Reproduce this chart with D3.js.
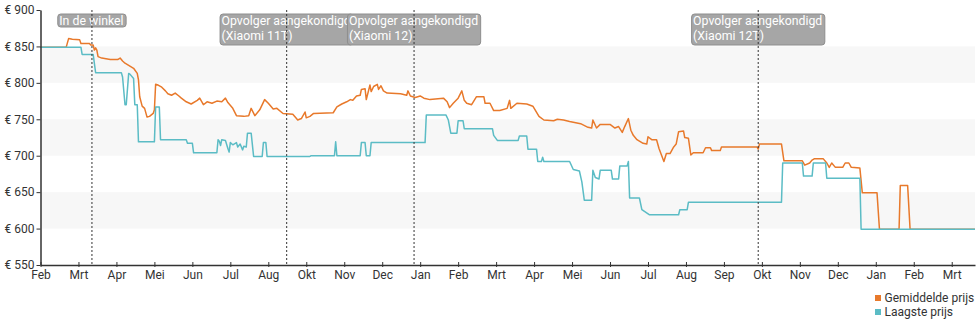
<!DOCTYPE html>
<html>
<head>
<meta charset="utf-8">
<script src="https://cdn.jsdelivr.net/npm/d3@7"></script>
<style>
  html, body { margin: 0; padding: 0; background: #fff; }
  svg { display: block; font-family: Roboto, "Noto Sans", sans-serif; }
</style>
</head>
<body>
<svg id="chart" width="980" height="325"></svg>
<script>
// Prijsverloop: x = dagen sinds de eerste maandmarkering, y = prijs in euro

// As-labels (één markering per 31 dagen)
const monthLabels = ["Feb","Mrt","Apr","Mei","Jun","Jul","Aug","Okt","Nov","Dec","Jan",
  "Feb","Mrt","Apr","Mei","Jun","Jul","Aug","Sep","Okt","Nov","Dec","Jan","Feb","Mrt"];
const tickStepDays = 31;
const lastDay = 763;
const priceTicks = [550, 600, 650, 700, 750, 800, 850, 900];

// Gebeurtenissen
const eventDays = [42, 201, 305, 586];
const eventLabels = [
  ["In de winkel"],
  ["Opvolger aangekondigd", "(Xiaomi 11T)"],
  ["Opvolger aangekondigd", "(Xiaomi 12)"],
  ["Opvolger aangekondigd", "(Xiaomi 12T)"]
];

// Gemiddelde prijs [dag, euro]
const gemiddeldePrijs = [
  [0,849],[21,849],[23,861],[26,860],[32,859],[33,854],[40,854],[41,852],[43,852],[44,845],
  [45,848],[46,845],[47,836],[50,834],[57,832],[63,832],[65,834],[67,830],[69,827],[72,824],
  [76,820],[79,813],[80,804],[81,781],[83,768],[85,765],[87,753],[89,754],[92,758],[93,763],
  [94,798],[96,797],[99,794],[102,789],[104,785],[107,783],[110,786],[113,782],[115,779],[119,774],
  [123,771],[128,776],[130,779],[133,770],[136,774],[140,772],[144,775],[148,774],[151,779],[153,773],
  [157,765],[160,755],[166,754],[170,755],[172,765],[175,755],[179,763],[183,777],[186,772],[190,764],
  [193,765],[198,758],[206,757],[209,751],[210,749],[213,751],[216,760],[217,752],[220,754],[223,758],
  [239,759],[242,767],[246,771],[250,774],[253,777],[255,776],[258,782],[261,783],[262,791],[265,792],
  [266,777],[269,797],[270,788],[272,795],[275,798],[276,791],[278,796],[280,789],[283,786],[294,785],
  [299,783],[300,789],[302,782],[306,780],[310,782],[313,779],[318,777],[329,779],[332,774],[334,766],
  [337,772],[341,779],[344,789],[346,776],[348,772],[352,770],[356,781],[362,781],[363,772],[367,772],
  [370,762],[375,762],[381,765],[383,776],[384,765],[389,772],[397,771],[402,768],[407,754],[411,749],
  [419,748],[422,750],[427,749],[432,747],[441,744],[447,739],[450,738],[451,749],[454,738],[457,743],
  [465,743],[469,738],[472,740],[475,732],[477,740],[480,751],[482,735],[484,728],[487,722],[490,719],
  [492,717],[495,716],[496,726],[499,722],[503,722],[505,710],[507,701],[509,692],[511,703],[514,703],
  [517,712],[519,716],[521,733],[525,734],[526,725],[529,724],[531,701],[533,704],[541,704],[543,711],
  [547,711],[548,707],[555,707],[556,712],[585,712],[586,709],[587,716],[605,716],[607,693],[622,693],
  [624,687],[628,690],[630,694],[632,696],[639,696],[642,690],[644,684],[646,690],[649,684],[655,684],
  [657,690],[660,690],[662,684],[669,683],[671,649],[683,649],[685,599],[701,599],[702,659],[708,659],
  [710,599],[763,599]
];

// Laagste prijs [dag, euro]
const laagstePrijs = [
  [0,849],[33,849],[34,839],[43,839],[45,814],[66,814],[67,808],[69,770],[70,770],[72,813],
  [73,812],[76,806],[77,770],[79,770],[80,719],[93,719],[94,767],[97,767],[98,722],[119,722],
  [120,717],[124,717],[125,704],[144,704],[145,722],[146,720],[147,714],[148,722],[151,721],[153,710],
  [154,705],[155,718],[157,715],[160,718],[161,712],[163,716],[165,708],[166,713],[168,712],[169,731],
  [172,731],[174,699],[181,699],[182,718],[184,718],[185,699],[220,699],[221,700],[240,700],[241,719],
  [242,700],[261,700],[262,718],[265,718],[266,700],[269,700],[270,718],[314,718],[315,756],[331,756],
  [333,749],[335,731],[340,731],[341,748],[345,748],[346,737],[369,737],[370,728],[373,721],[390,721],
  [391,727],[397,727],[398,709],[405,709],[406,692],[409,692],[410,698],[411,692],[432,692],[435,681],
  [440,679],[442,664],[444,639],[450,639],[451,680],[453,670],[456,668],[457,680],[466,680],[467,668],
  [472,668],[473,686],[479,686],[480,692],[481,642],[489,642],[491,626],[497,619],[521,619],[522,626],
  [528,626],[529,636],[605,636],[606,690],[622,690],[623,672],[630,672],[631,690],[641,690],[642,669],
  [669,669],[670,599],[763,599]
];

const bands = [[800, 850], [700, 750], [600, 650]];
const colors = { gemiddeld: "#e8792b", laagst: "#5bbcc5" };

const svg = d3.select("#chart");
const x = d3.scaleLinear().domain([0, lastDay]).range([40.5, 975]);
const y = d3.scaleLinear().domain([550, 900]).range([265, 10]);

// Achtergrondbanden
svg.append("g").selectAll("rect").data(bands).join("rect")
  .attr("x", x(0)).attr("width", x(lastDay) - x(0))
  .attr("y", d => y(d[1])).attr("height", d => y(d[0]) - y(d[1]))
  .attr("fill", "#f7f7f7");

// Prijslijnen
const line = d3.line().x(d => x(d[0])).y(d => y(d[1]));
svg.append("path").datum(gemiddeldePrijs)
  .attr("d", line).attr("fill", "none")
  .attr("stroke", colors.gemiddeld).attr("stroke-width", 1.5).attr("stroke-linejoin", "round");
svg.append("path").datum(laagstePrijs)
  .attr("d", line).attr("fill", "none")
  .attr("stroke", colors.laagst).attr("stroke-width", 1.5).attr("stroke-linejoin", "round");

// Assen
const yAxis = svg.append("g").attr("transform", `translate(${x(0)},0)`)
  .call(d3.axisLeft(y).tickValues(priceTicks).tickFormat(d => "€ " + d)
    .tickSize(4).tickSizeOuter(0).tickPadding(2));
const xAxis = svg.append("g").attr("transform", `translate(0,${y(550)})`)
  .call(d3.axisBottom(x).tickValues(monthLabels.map((_, i) => i * tickStepDays))
    .tickFormat((d, i) => monthLabels[i]).tickSize(2).tickSizeOuter(0).tickPadding(3));
xAxis.selectAll(".tick line").attr("y1", -3).attr("y2", 2);
[yAxis, xAxis].forEach(g => {
  g.select(".domain").attr("stroke", "#333").attr("stroke-width", 1.5);
  g.selectAll(".tick line").attr("stroke", "#333");
  g.selectAll("text").attr("fill", "#333").style("font-size", "12px")
    .style("font-family", "Roboto, 'Noto Sans', sans-serif");
});

// Gebeurtenislabels
const ann = svg.append("g");
eventDays.forEach((day, i) => {
  const lines = eventLabels[i];
  const g = ann.append("g");
  const rect = g.append("rect");
  const txt = g.append("text").attr("fill", "#fff").style("font-size", "12.3px");
  lines.forEach((t, j) => txt.append("tspan").attr("y", 25 + j * 15).text(t));
  let w = 0;
  txt.selectAll("tspan").each(function () { w = Math.max(w, this.getComputedTextLength()); });
  const bw = w + 4;
  const left = x(day) - bw / 2;
  txt.selectAll("tspan").attr("x", left + 1.5);
  rect.attr("x", left).attr("y", 14).attr("width", bw)
    .attr("height", lines.length === 1 ? 13 : 31)
    .attr("rx", 3).attr("fill", "#a6a6a6").attr("stroke", "#8e8e8e").attr("stroke-width", 1);
});

// Verticale stippellijnen
svg.append("g").selectAll("line").data(eventDays).join("line")
  .attr("x1", d => x(d)).attr("x2", d => x(d))
  .attr("y1", y(900)).attr("y2", y(550))
  .attr("stroke", "#333").attr("stroke-width", 1).attr("stroke-dasharray", "2,2");

// Legenda
const legendItems = [["Gemiddelde prijs", colors.gemiddeld], ["Laagste prijs", colors.laagst]];
const leg = svg.append("g").attr("transform", "translate(875,292)");
legendItems.forEach(([label, c], i) => {
  leg.append("rect").attr("x", 0).attr("y", 3 + i * 14).attr("width", 6).attr("height", 6).attr("fill", c);
  leg.append("text").attr("x", 9.5).attr("y", 9.5 + i * 14)
    .attr("fill", "#333").style("font-size", "12px").text(label);
});
</script>
</body>
</html>
